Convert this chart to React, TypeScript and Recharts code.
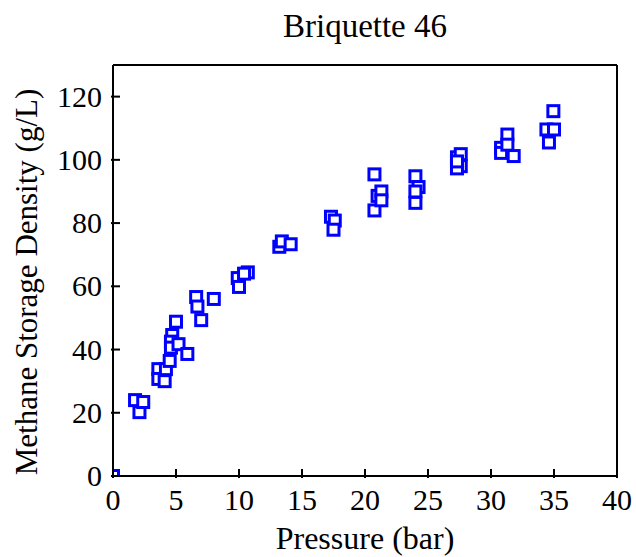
import { ScatterChart, Scatter, XAxis, YAxis } from "recharts";

const FONT = '"Liberation Serif", "Times New Roman", serif';
const BLUE = "#0000ff";

// measured samples: pressure (bar) and methane storage density (g/L)
const PRESSURE = [
  0,
  1.75, 2.1, 2.4,
  3.6, 3.6, 4.1, 4.2, 4.5, 4.7, 4.6, 4.6, 5.2, 5.0, 5.9, 6.6, 6.7, 7.0, 8.0,
  9.9, 10.0, 10.7, 10.4,
  13.2, 13.4, 14.1,
  17.3, 17.6, 17.5,
  20.75, 20.75, 21.0, 21.3, 21.3,
  24.0, 24.25, 24.0, 24.0,
  27.3, 27.6, 27.6, 27.3, 27.3,
  31.3, 30.8, 30.8, 31.3, 31.8,
  34.95, 34.4, 35.0, 34.6,
];
const DENSITY = [
  0,
  24.0, 20.2, 23.4,
  33.8, 30.7, 30.0, 33.8, 36.4, 44.6, 42.5, 40.6, 41.7, 48.8, 38.6, 56.6, 53.6, 49.3, 56.0,
  62.6, 59.8, 64.4, 64.0,
  72.5, 74.2, 73.3,
  82.0, 80.8, 77.9,
  95.4, 84.0, 88.6, 90.0, 87.2,
  94.8, 91.4, 86.4, 90.0,
  100.8, 101.8, 98.0, 97.3, 99.5,
  108.0, 103.8, 102.2, 104.8, 101.2,
  115.4, 109.6, 109.6, 105.5,
];

const X_MAJOR = [0, 5, 10, 15, 20, 25, 30, 35, 40];
const X_MINOR = [
  1, 2, 3, 4, 6, 7, 8, 9, 11, 12, 13, 14, 16, 17, 18, 19,
  21, 22, 23, 24, 26, 27, 28, 29, 31, 32, 33, 34, 36, 37, 38, 39,
];
const Y_MAJOR = [0, 20, 40, 60, 80, 100, 120];
const Y_MINOR = [10, 30, 50, 70, 90, 110];

const data = PRESSURE.map((p, i) => ({ p, d: DENSITY[i] }));

const frame = { stroke: "#000", strokeWidth: 2 };
const MAJOR_LEN = 9;
const MINOR_LEN = 5;
const TICK_W = 2;

// inward tick marks drawn as thin rects; labels only on the bottom / left majors
const makeTick =
  (side: "bottom" | "top" | "left" | "right", len: number, label: boolean) =>
  (props: any) => {
    const x = Number(props.x);
    const y = Number(props.y);
    const value = props.payload?.value;
    const h = TICK_W / 2;
    let r = { x: x - h, y: y - len, w: TICK_W, h: len };
    if (side === "top") r = { x: x - h, y, w: TICK_W, h: len };
    if (side === "left") r = { x, y: y - h, w: len, h: TICK_W };
    if (side === "right") r = { x: x - len, y: y - h, w: len, h: TICK_W };
    return (
      <g>
        <rect x={r.x} y={r.y} width={r.w} height={r.h} fill="#000" />
        {label && side === "bottom" && (
          <text x={x} y={y + 32} textAnchor="middle" fontFamily={FONT} fontSize={30} fill="#000">
            {value}
          </text>
        )}
        {label && side === "left" && (
          <text x={x - 9} y={y + 10} textAnchor="end" fontFamily={FONT} fontSize={30} fill="#000">
            {value}
          </text>
        )}
      </g>
    );
  };

export default function App() {
  return (
    <div
      style={{
        position: "absolute",
        left: 0,
        top: 0,
        width: 636,
        height: 557,
        background: "#fff",
        fontFamily: FONT,
      }}
    >
      <ScatterChart
        width={636}
        height={557}
        margin={{ top: 63, right: 17, bottom: 79, left: 111 }}
      >
        <XAxis
          xAxisId="x"
          dataKey="p"
          type="number"
          domain={[0, 40]}
          ticks={X_MAJOR}
          allowDataOverflow
          height={1}
          tickSize={0}
          tickLine={false}
          tick={makeTick("bottom", MAJOR_LEN, true)}
          axisLine={frame}
        />
        <XAxis
          xAxisId="xm"
          type="number"
          domain={[0, 40]}
          ticks={X_MINOR}
          height={1}
          tickSize={0}
          tickLine={false}
          tick={makeTick("bottom", MINOR_LEN, false)}
          axisLine={false}
        />
        <XAxis
          xAxisId="xt"
          orientation="top"
          type="number"
          domain={[0, 40]}
          ticks={X_MAJOR}
          height={1}
          tickSize={0}
          tickLine={false}
          tick={makeTick("top", MAJOR_LEN, false)}
          axisLine={frame}
        />
        <XAxis
          xAxisId="xtm"
          orientation="top"
          type="number"
          domain={[0, 40]}
          ticks={X_MINOR}
          height={1}
          tickSize={0}
          tickLine={false}
          tick={makeTick("top", MINOR_LEN, false)}
          axisLine={false}
        />
        <YAxis
          yAxisId="y"
          dataKey="d"
          type="number"
          domain={[0, 130]}
          ticks={Y_MAJOR}
          allowDataOverflow
          width={1}
          tickSize={0}
          tickLine={false}
          tick={makeTick("left", MAJOR_LEN, true)}
          axisLine={frame}
        />
        <YAxis
          yAxisId="ym"
          type="number"
          domain={[0, 130]}
          ticks={Y_MINOR}
          width={1}
          tickSize={0}
          tickLine={false}
          tick={makeTick("left", MINOR_LEN, false)}
          axisLine={false}
        />
        <YAxis
          yAxisId="yr"
          orientation="right"
          type="number"
          domain={[0, 130]}
          ticks={Y_MAJOR}
          width={1}
          tickSize={0}
          tickLine={false}
          tick={makeTick("right", MAJOR_LEN, false)}
          axisLine={frame}
        />
        <YAxis
          yAxisId="yrm"
          orientation="right"
          type="number"
          domain={[0, 130]}
          ticks={Y_MINOR}
          width={1}
          tickSize={0}
          tickLine={false}
          tick={makeTick("right", MINOR_LEN, false)}
          axisLine={false}
        />
        <Scatter
          xAxisId="x"
          yAxisId="y"
          data={data}
          shape={(p: any) =>
            p.cx == null ? null : (
              <rect
                x={p.cx - 5.5}
                y={p.cy - 5.5}
                width={11}
                height={11}
                fill="#fff"
                stroke={BLUE}
                strokeWidth={3}
              />
            )
          }
          isAnimationActive={false}
        />
      </ScatterChart>

      <div
        style={{
          position: "absolute",
          left: 113,
          width: 504,
          top: 7,
          textAlign: "center",
          fontSize: 33,
          lineHeight: "38px",
        }}
      >
        Briquette 46
      </div>
      <div
        style={{
          position: "absolute",
          left: 113,
          width: 504,
          top: 520,
          textAlign: "center",
          fontSize: 32,
          lineHeight: "36px",
        }}
      >
        Pressure (bar)
      </div>
      <div
        style={{
          position: "absolute",
          left: 27 - 250,
          top: 282 - 18,
          width: 500,
          textAlign: "center",
          fontSize: 31,
          lineHeight: "36px",
          transform: "rotate(-90deg)",
        }}
      >
        Methane Storage Density (g/L)
      </div>
    </div>
  );
}
